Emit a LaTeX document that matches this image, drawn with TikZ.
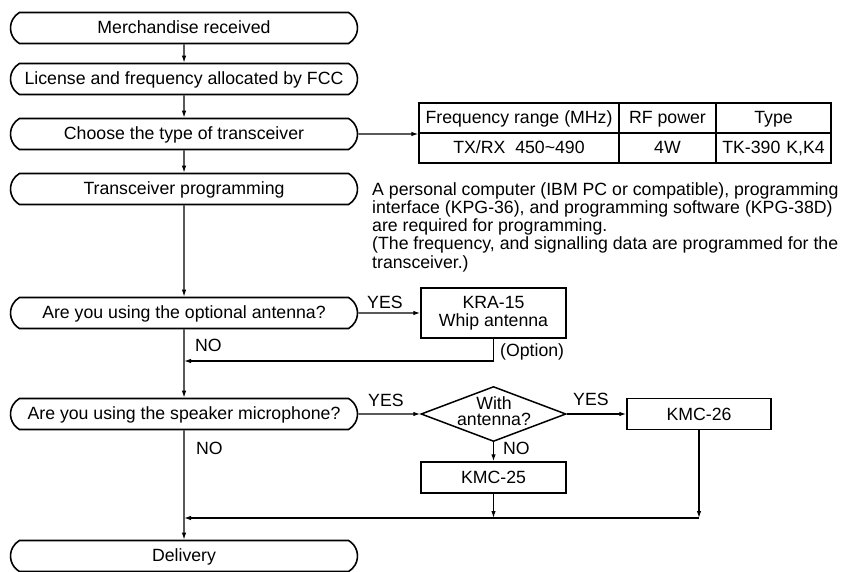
\documentclass[tikz,border=0pt]{standalone}
\usepackage{fontspec}
\setmainfont{Liberation Sans}
\usetikzlibrary{shapes.misc,shapes.geometric,arrows.meta}

\begin{document}
\begin{tikzpicture}[
    x=1pt, y=-1pt,
    every node/.style={font=\fontsize{17.7}{18.25}\selectfont, inner sep=0pt},
    stage/.style={rounded rectangle, rounded rectangle arc length=120,
        draw=black, line width=1.6pt, minimum width=347pt, minimum height=31pt,
        text height=12pt, text depth=1pt},
    part/.style={rectangle, draw=black, line width=1.5pt,
        minimum width=145pt, minimum height=31pt},
    cell/.style={rectangle, draw=black, line width=1.2pt, minimum height=30pt,
        text height=12pt, text depth=1pt},
    decision/.style={diamond, draw=black, line width=1.5pt,
        minimum width=145pt, minimum height=55pt},
    flow/.style={line width=1.2pt, -{Latex[length=7pt,width=4.5pt]}},
    tag/.style={anchor=west}
]
    \useasboundingbox (0,0) rectangle (854,572);
    % main steps
    \node[stage] (recv) at (184,28) {Merchandise received};
    \node[stage] (lic) at (184,79) {License and frequency allocated by FCC};
    \node[stage] (type) at (184,134) {Choose the type of transceiver};
    \node[stage] (prog) at (184,189) {Transceiver programming};
    \node[stage] (ant) at (184,313) {Are you using the optional antenna?};
    \node[stage] (mic) at (184,414) {Are you using the speaker microphone?};
    \node[stage] (deliv) at (184,556) {Delivery};
    % table
    \node[cell, minimum width=200pt] (freqh) at (519,118) {Frequency range (MHz)};
    \node[cell, minimum width=97pt] (powh) at (667.5,118) {RF power};
    \node[cell, minimum width=115pt] (typeh) at (773.5,118) {Type};
    \node[cell, minimum width=200pt] (freq) at (519,148) {TX/RX\ \ 450\textasciitilde490};
    \node[cell, minimum width=97pt] (pow) at (667.5,148) {4W};
    \node[cell, minimum width=115pt] (model) at (773.5,148) {TK-390\,\,K,K4};
    % note
    \node[anchor=north west, align=left] (note) at (372,182)
        {A personal computer (IBM PC or compatible), programming\\
         interface (KPG-36), and programming software (KPG-38D)\\
         are required for programming.\\
         (The frequency, and signalling data are programmed for the\\
         transceiver.)};
    % options
    \node[part, minimum height=50pt, align=center] (whip) at (493.5,313) {KRA-15\\Whip antenna};
    \node[tag] (opt) at (500,352) {(Option)};
    \node[decision] (withant) at (493.5,414) {};
    \node[align=center, font=\fontsize{17.7}{16}\selectfont] (withtxt) at (494,411) {With\\antenna?};
    \node[part, minimum width=144pt] (kmc26) at (699,414) {KMC-26};
    \node[part] (kmc25) at (493.5,477.5) {KMC-25};
    % labels
    \node[tag] (yes1) at (367,302) {YES};
    \node[tag] (no1) at (195,345) {NO};
    \node[tag] (yes2) at (368,400) {YES};
    \node[tag] (no2) at (196,448) {NO};
    \node[tag] (yes3) at (573,399) {YES};
    \node[tag] (no3) at (503,448) {NO};
    \coordinate (back) at (184,361);
    \coordinate (join) at (184,518);
    % connectors
    \draw[flow] (recv) -- (lic);
    \draw[flow] (lic) -- (type);
    \draw[flow] (type) -- (prog);
    \draw[flow] (type) -- (type -| freqh.west);
    \draw[flow] (prog) -- (ant);
    \draw[flow] (ant) -- (whip);
    \draw[flow] (whip.south) |- (back);
    \draw[flow] (ant) -- (mic);
    \draw[flow] (mic) -- (withant);
    \draw[flow] (withant) -- (kmc26);
    \draw[flow] (withant) -- (kmc25);
    \draw[flow] (kmc25) -- (kmc25 |- join);
    \draw[flow] (kmc26) -- (kmc26 |- join);
    \draw[flow] (kmc26 |- join) -- (join);
    \draw[flow] (mic) -- (deliv);
\end{tikzpicture}
\end{document}
